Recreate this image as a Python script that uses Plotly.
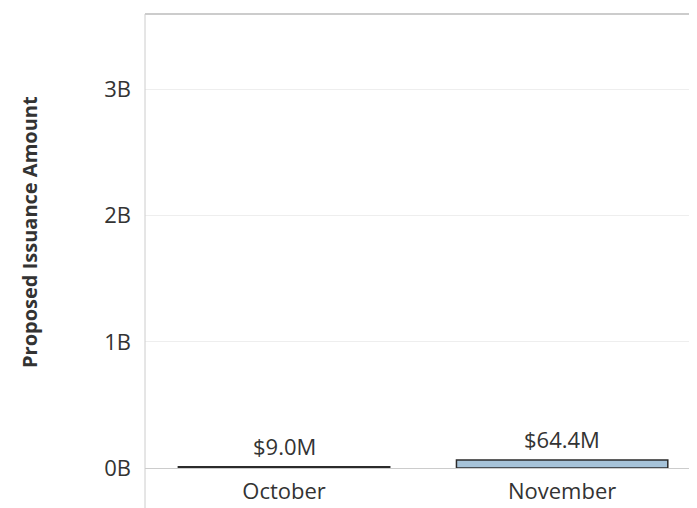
import plotly.graph_objects as go

months = ["October", "November"]
amounts = [9.0e6, 64.4e6]
labels = ["$9.0M", "$64.4M"]
tick_vals = [0, 1e9, 2e9, 3e9]
tick_text = ["0B", "1B", "2B", "3B"]

FONT = "Open Sans, Noto Sans, sans-serif"
W, H = 689, 500
ML, MT, MB = 137, 6, 40
PW, PH = W - ML, H - MT - MB

fig = go.Figure()
fig.add_trace(go.Bar(
    x=months, y=amounts, width=0.76,
    marker=dict(color="#a6c3d9", line=dict(color="#2b2b2b", width=1.5)),
    hoverinfo="skip",
))
for m, v, t in zip(months, amounts, labels):
    fig.add_annotation(x=m, y=v, text=t, showarrow=False, yanchor="bottom",
                       yshift=4, font=dict(family=FONT, size=22, color="#333333"))

fig.update_layout(
    width=W, height=H,
    margin=dict(l=ML, r=0, t=MT, b=MB),
    paper_bgcolor="white", plot_bgcolor="white",
    showlegend=False,
    font=dict(family=FONT, color="#333333"),
    xaxis=dict(range=[-0.5, 1.485], showgrid=False, showline=False, ticks="",
               ticklabelstandoff=8,
               tickfont=dict(family=FONT, size=22, color="#333333"), fixedrange=True),
    yaxis=dict(range=[0, 3.6e9], tickvals=tick_vals, ticktext=tick_text,
               showgrid=True, gridcolor="#eeeeee", gridwidth=1,
               zeroline=True, zerolinecolor="#cccccc", zerolinewidth=1,
               showline=False, ticks="", ticklabelstandoff=13,
               tickfont=dict(family=FONT, size=22, color="#333333")),
)
# left axis line extending below the zero line, and top border
fig.add_shape(type="line", xref="paper", yref="paper", x0=0, x1=0, y0=-MB / PH, y1=1,
              line=dict(color="#cccccc", width=1))
fig.add_shape(type="line", xref="paper", yref="paper", x0=0, x1=1, y0=1, y1=1,
              line=dict(color="#cccccc", width=2))
fig.add_annotation(text="<b>Proposed Issuance Amount</b>", xref="paper", yref="paper",
                   x=-(145 - 30) / PW, y=(468 - 232) / PH, textangle=-90, showarrow=False,
                   xanchor="center", yanchor="middle",
                   font=dict(family=FONT, size=20, color="#333333"))

fig.write_html("out.html")
